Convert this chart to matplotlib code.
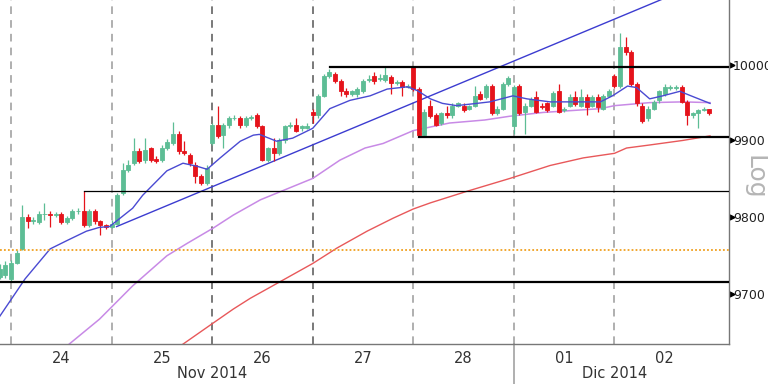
import matplotlib
matplotlib.use("Agg")
import matplotlib.pyplot as plt
import numpy as np
from matplotlib.ticker import FixedLocator, NullLocator, FixedFormatter

plt.rcParams['font.family'] = ['Liberation Sans Narrow', 'DejaVu Sans']

# half-hour candles, 18 per session (2 from the previous session first)
opens = [9722, 9724,
         9719, 9740, 9758, 9800, 9794, 9793, 9803, 9804, 9802, 9803, 9793, 9798, 9807, 9808, 9789, 9807, 9794, 9789,
         9787, 9791, 9831, 9861, 9870, 9886, 9874, 9890, 9875, 9874, 9890, 9896, 9909, 9886, 9881, 9867, 9853, 9844,
         9896, 9920, 9907, 9920, 9929, 9929, 9920, 9929, 9933, 9919, 9874, 9890, 9883, 9900, 9919, 9920, 9916, 9917,
         9938, 9933, 9959, 9986, 9988, 9979, 9966, 9962, 9961, 9966, 9980, 9986, 9982, 9980, 9984, 9976, 9978, 9971,
         9997, 9968, 9907, 9946, 9933, 9923, 9936, 9933, 9946, 9946, 9942, 9946, 9962, 9958, 9972, 9936, 9942, 9975,
         9919, 9972, 9938, 9946, 9957, 9946, 9949, 9946, 9965, 9940, 9946, 9958, 9946, 9958, 9946, 9958, 9942, 9959,
         9986, 9972, 10024, 10017, 9975, 9946, 9929, 9942, 9953, 9962, 9970, 9970, 9971, 9951, 9933, 9936, 9940, 9942]
highs = [9738, 9742,
         9743, 9756, 9815, 9804, 9799, 9807, 9818, 9807, 9806, 9806, 9801, 9810, 9811, 9833, 9810, 9810, 9796, 9791,
         9795, 9831, 9870, 9874, 9903, 9890, 9903, 9892, 9879, 9894, 9902, 9925, 9912, 9899, 9883, 9871, 9856, 9867,
         9923, 9946, 9923, 9932, 9933, 9932, 9932, 9934, 9936, 9921, 9892, 9903, 9903, 9921, 9925, 9930, 9921, 9923,
         9941, 9962, 9988, 9995, 9991, 9982, 9969, 9967, 9971, 9982, 9987, 9991, 9988, 9997, 9987, 9980, 9980, 9975,
         9999, 9971, 9941, 9953, 9936, 9938, 9945, 9949, 9951, 9949, 9947, 9972, 9965, 9975, 9975, 9945, 9978, 9986,
         9974, 9975, 9949, 9958, 9965, 9949, 9951, 9966, 9975, 9944, 9961, 9966, 9968, 9961, 9960, 9961, 9962, 9968,
         9988, 10043, 10037, 10020, 9978, 9949, 9945, 9954, 9967, 9975, 9974, 9974, 9974, 9954, 9938, 9942, 9944, 9942]
lows = [9719, 9720,
        9716, 9738, 9756, 9785, 9791, 9790, 9795, 9787, 9799, 9790, 9790, 9795, 9804, 9786, 9786, 9790, 9776, 9784,
        9785, 9789, 9828, 9858, 9867, 9870, 9870, 9871, 9870, 9871, 9887, 9894, 9882, 9881, 9866, 9844, 9841, 9841,
        9894, 9903, 9890, 9917, 9927, 9917, 9918, 9927, 9917, 9873, 9871, 9873, 9881, 9897, 9916, 9911, 9913, 9915,
        9923, 9930, 9957, 9983, 9976, 9959, 9958, 9959, 9958, 9963, 9978, 9975, 9979, 9978, 9962, 9974, 9959, 9969,
        9966, 9904, 9904, 9929, 9919, 9920, 9930, 9930, 9944, 9937, 9940, 9944, 9953, 9955, 9933, 9933, 9940, 9972,
        9909, 9933, 9909, 9944, 9936, 9941, 9937, 9944, 9936, 9937, 9944, 9945, 9944, 9934, 9944, 9938, 9940, 9957,
        9970, 9970, 10014, 9972, 9946, 9923, 9926, 9940, 9950, 9959, 9967, 9967, 9949, 9920, 9930, 9916, 9939, 9934]
closes = [9732, 9737,
          9740, 9752, 9800, 9794, 9795, 9803, 9804, 9802, 9803, 9793, 9798, 9807, 9808, 9789, 9807, 9794, 9789, 9786,
          9791, 9828, 9861, 9867, 9886, 9873, 9887, 9874, 9873, 9890, 9898, 9909, 9886, 9883, 9870, 9853, 9844, 9864,
          9920, 9906, 9920, 9929, 9930, 9920, 9929, 9931, 9919, 9874, 9890, 9883, 9900, 9919, 9920, 9913, 9919, 9919,
          9933, 9959, 9986, 9991, 9979, 9965, 9961, 9965, 9968, 9979, 9982, 9979, 9983, 9987, 9976, 9978, 9971, 9972,
          9968, 9907, 9938, 9932, 9921, 9936, 9933, 9946, 9949, 9940, 9945, 9959, 9955, 9972, 9936, 9942, 9975, 9983,
          9971, 9936, 9946, 9955, 9938, 9944, 9940, 9963, 9938, 9941, 9958, 9948, 9958, 9944, 9957, 9944, 9959, 9966,
          9972, 10024, 10017, 9975, 9949, 9926, 9942, 9951, 9965, 9971, 9971, 9971, 9951, 9933, 9936, 9940, 9941, 9936]

# moving averages (x in sessions from 24 Nov)
ma_fast_x = [-0.11, 0.14, 0.39, 0.56, 0.75, 0.88, 0.98, 1.21, 1.31, 1.55, 1.71, 1.85, 1.95, 2.08, 2.28, 2.41,
             2.47, 2.64, 2.80, 3.00, 3.17, 3.37, 3.57, 3.74, 3.94, 4.04, 4.17, 4.29, 4.43, 4.63, 4.76, 4.99,
             5.13, 5.36, 5.86, 5.98, 6.13, 6.22, 6.35, 6.48, 6.65, 6.78, 6.95]
ma_fast = [9671, 9719, 9758, 9769, 9781, 9786, 9787, 9811, 9828, 9860, 9870, 9866, 9862, 9877, 9899, 9907,
           9908, 9899, 9903, 9916, 9942, 9953, 9959, 9968, 9971, 9966, 9955, 9949, 9946, 9949, 9951, 9959,
           9955, 9951, 9951, 9959, 9972, 9970, 9955, 9959, 9965, 9958, 9949]
ma_mid_x = [0.57, 0.88, 1.21, 1.55, 1.75, 2.01, 2.21, 2.48, 3.00, 3.27, 3.52, 3.70, 4.00, 4.36, 4.71,
            4.96, 5.29, 5.86, 6.00, 6.35, 6.68, 6.95]
ma_mid = [9634, 9667, 9710, 9749, 9765, 9785, 9802, 9822, 9850, 9874, 9890, 9896, 9913, 9923, 9927,
          9932, 9937, 9942, 9946, 9950, 9951, 9950]
ma_slow_x = [1.70, 2.01, 2.21, 2.38, 2.67, 3.00, 3.24, 3.54, 3.80, 4.00, 4.17, 4.53, 4.96, 5.36, 5.69,
             6.00, 6.12, 6.35, 6.68, 6.95]
ma_slow = [9634, 9662, 9680, 9694, 9715, 9739, 9759, 9781, 9798, 9810, 9818, 9833, 9850, 9867, 9877,
           9883, 9890, 9894, 9900, 9906]

# drawn levels
box_top, box_top_from = 9997, 3.17
box_bot, box_bot_from = 9905, 4.06
level_thin, level_thin_from = 9833, 0.73
level_thick = 9715
level_dotted = 9757
trend_x = [1.05, 7.2]
trend_y = [9787, 10129]

day_labels = ['24', '25', '26', '27', '28', '01', '02']
month_labels = ['Nov 2014', 'Dic 2014']
month_pos = [2.0, 6.0]
y_ticks = [9700, 9800, 9900, 10000]

teal = '#5dbd95'
red = '#e5131b'

fig = plt.figure(figsize=(7.68, 3.84), dpi=100)
ax = fig.add_axes([0.0, 0.104, 0.949, 0.896])

o = np.array(opens)
h = np.array(highs)
l = np.array(lows)
c = np.array(closes)
x = (np.arange(len(o)) - 2) / 18.0
up = c >= o
cols = np.where(up, teal, red)

ax.vlines(x, l, h, colors=cols, linewidth=0.9, zorder=3)
ax.bar(x, np.abs(c - o), bottom=np.minimum(o, c), width=0.04, color=cols,
       edgecolor=cols, linewidth=0.6, zorder=4)

# session separators
sep_col = ['#9a9a9a', '#9a9a9a', '#555555', '#555555', '#9a9a9a', '#9a9a9a', '#9a9a9a']
for i, sc in enumerate(sep_col):
    ax.axvline(i, color=sc, linestyle=(0, (5, 4)), linewidth=1.1, zorder=1)
ax.plot([5, 5], [0, -0.13], color='#9a9a9a', linewidth=1.1,
        transform=ax.get_xaxis_transform(), clip_on=False)

ax.plot(ma_slow_x, ma_slow, color='#e8585a', linewidth=1.0, zorder=2)
ax.plot(ma_mid_x, ma_mid, color='#c88ae6', linewidth=1.1, zorder=2)
ax.plot(ma_fast_x, ma_fast, color='#4a4ad2', linewidth=1.0, zorder=5)
ax.plot(trend_x, trend_y, color='#3c3cd0', linewidth=1.0, zorder=2)

ax.plot([box_top_from, 7.3], [box_top] * 2, color='black', linewidth=1.6, zorder=6)
ax.plot([box_bot_from, 7.3], [box_bot] * 2, color='black', linewidth=1.6, zorder=6)
ax.plot([level_thin_from, 7.3], [level_thin] * 2, color='black', linewidth=0.9, zorder=6)
ax.axhline(level_thick, color='black', linewidth=1.6, zorder=6)
ax.axhline(level_dotted, color='#f0a020', linestyle=(0, (1, 1.2)), linewidth=1.3, zorder=6)

ax.set_yscale('log')
ax.set_ylim(9635, 10087)
ax.set_xlim(-0.109, 7.137)

ax.yaxis.tick_right()
ax.yaxis.set_major_locator(FixedLocator(y_ticks))
ax.yaxis.set_major_formatter(FixedFormatter([str(v) for v in y_ticks]))
ax.yaxis.set_minor_locator(NullLocator())
ax.tick_params(axis='y', length=0, pad=3, labelsize=9, labelcolor='#222222')
ax.plot([1.004] * len(y_ticks), y_ticks, marker='>', markersize=3.5, color='black',
        linestyle='none', transform=ax.get_yaxis_transform(), clip_on=False)

ax.set_xticks(np.arange(len(day_labels)) + 0.5)
ax.set_xticklabels(day_labels)
ax.tick_params(axis='x', length=0, pad=5, labelsize=10.5, labelcolor='#333333')
for lab, pos in zip(month_labels, month_pos):
    ax.text(pos, -0.085, lab, transform=ax.get_xaxis_transform(), ha='center', va='center',
            fontsize=10.5, color='#333333')

ax.text(1.035, 0.485, 'Log', transform=ax.transAxes, rotation=270, ha='center', va='center',
        fontsize=18, color='#b5b5b5')

for s in ['left', 'top']:
    ax.spines[s].set_visible(False)
for s in ['right', 'bottom']:
    ax.spines[s].set_color('#777777')
    ax.spines[s].set_linewidth(1.0)

fig.savefig('out.png', dpi=100)
